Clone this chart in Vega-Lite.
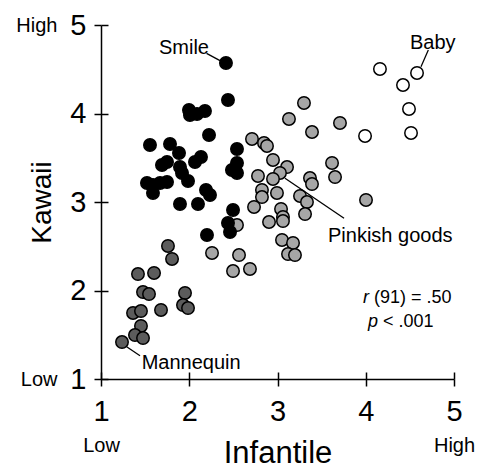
{
  "$schema": "https://vega.github.io/schema/vega-lite/v6.json",
  "width": 353,
  "height": 354,
  "autosize": {"type": "none"},
  "padding": {"left": 101, "top": 25, "right": 28, "bottom": 85},
  "background": "white",
  "config": {
    "font": "Liberation Sans",
    "view": {"stroke": null},
    "axis": {
      "grid": false,
      "domainColor": "#000000",
      "tickColor": "#000000",
      "labelColor": "#000000",
      "titleColor": "#000000",
      "domainWidth": 1.5,
      "tickWidth": 1.5,
      "titleFontWeight": "normal",
      "labelFont": "Liberation Sans",
      "titleFont": "Liberation Sans",
      "labelFlush": false,
      "labelOverlap": false
    }
  },
  "datasets": {
    "points": [
      {"infantile": 3.300, "kawaii": 4.119, "group": "light"},
      {"infantile": 3.130, "kawaii": 3.938, "group": "light"},
      {"infantile": 3.708, "kawaii": 3.893, "group": "light"},
      {"infantile": 3.391, "kawaii": 3.791, "group": "light"},
      {"infantile": 2.711, "kawaii": 3.712, "group": "light"},
      {"infantile": 2.847, "kawaii": 3.667, "group": "light"},
      {"infantile": 2.881, "kawaii": 3.633, "group": "light"},
      {"infantile": 2.949, "kawaii": 3.475, "group": "light"},
      {"infantile": 3.108, "kawaii": 3.395, "group": "light"},
      {"infantile": 3.028, "kawaii": 3.328, "group": "light"},
      {"infantile": 2.779, "kawaii": 3.294, "group": "light"},
      {"infantile": 2.949, "kawaii": 3.260, "group": "light"},
      {"infantile": 3.618, "kawaii": 3.441, "group": "light"},
      {"infantile": 3.652, "kawaii": 3.282, "group": "light"},
      {"infantile": 3.368, "kawaii": 3.271, "group": "light"},
      {"infantile": 3.391, "kawaii": 3.203, "group": "light"},
      {"infantile": 2.824, "kawaii": 3.136, "group": "light"},
      {"infantile": 2.824, "kawaii": 3.056, "group": "light"},
      {"infantile": 2.994, "kawaii": 3.102, "group": "light"},
      {"infantile": 3.255, "kawaii": 3.068, "group": "light"},
      {"infantile": 3.334, "kawaii": 3.000, "group": "light"},
      {"infantile": 2.734, "kawaii": 2.944, "group": "light"},
      {"infantile": 2.904, "kawaii": 2.774, "group": "light"},
      {"infantile": 3.040, "kawaii": 2.921, "group": "light"},
      {"infantile": 3.062, "kawaii": 2.831, "group": "light"},
      {"infantile": 3.062, "kawaii": 2.785, "group": "light"},
      {"infantile": 3.312, "kawaii": 2.864, "group": "light"},
      {"infantile": 4.003, "kawaii": 3.023, "group": "light"},
      {"infantile": 3.051, "kawaii": 2.571, "group": "light"},
      {"infantile": 3.176, "kawaii": 2.537, "group": "light"},
      {"infantile": 3.119, "kawaii": 2.412, "group": "light"},
      {"infantile": 3.198, "kawaii": 2.401, "group": "light"},
      {"infantile": 2.688, "kawaii": 2.243, "group": "light"},
      {"infantile": 2.564, "kawaii": 2.401, "group": "light"},
      {"infantile": 2.496, "kawaii": 2.220, "group": "light"},
      {"infantile": 2.258, "kawaii": 2.424, "group": "light"},
      {"infantile": 2.541, "kawaii": 2.740, "group": "light"},
      {"infantile": 1.759, "kawaii": 2.503, "group": "dark"},
      {"infantile": 1.805, "kawaii": 2.356, "group": "dark"},
      {"infantile": 1.419, "kawaii": 2.186, "group": "dark"},
      {"infantile": 1.601, "kawaii": 2.198, "group": "dark"},
      {"infantile": 1.476, "kawaii": 1.983, "group": "dark"},
      {"infantile": 1.544, "kawaii": 1.960, "group": "dark"},
      {"infantile": 1.952, "kawaii": 1.972, "group": "dark"},
      {"infantile": 1.929, "kawaii": 1.836, "group": "dark"},
      {"infantile": 1.986, "kawaii": 1.802, "group": "dark"},
      {"infantile": 1.680, "kawaii": 1.780, "group": "dark"},
      {"infantile": 1.363, "kawaii": 1.746, "group": "dark"},
      {"infantile": 1.453, "kawaii": 1.768, "group": "dark"},
      {"infantile": 1.453, "kawaii": 1.599, "group": "dark"},
      {"infantile": 1.385, "kawaii": 1.497, "group": "dark"},
      {"infantile": 1.476, "kawaii": 1.463, "group": "dark"},
      {"infantile": 1.238, "kawaii": 1.418, "group": "dark"},
      {"infantile": 2.416, "kawaii": 4.571, "group": "black"},
      {"infantile": 2.439, "kawaii": 4.153, "group": "black"},
      {"infantile": 1.997, "kawaii": 4.040, "group": "black"},
      {"infantile": 2.008, "kawaii": 3.983, "group": "black"},
      {"infantile": 2.088, "kawaii": 3.994, "group": "black"},
      {"infantile": 2.178, "kawaii": 4.028, "group": "black"},
      {"infantile": 2.224, "kawaii": 3.757, "group": "black"},
      {"infantile": 1.555, "kawaii": 3.644, "group": "black"},
      {"infantile": 1.782, "kawaii": 3.655, "group": "black"},
      {"infantile": 1.884, "kawaii": 3.554, "group": "black"},
      {"infantile": 2.541, "kawaii": 3.599, "group": "black"},
      {"infantile": 2.133, "kawaii": 3.508, "group": "black"},
      {"infantile": 2.065, "kawaii": 3.452, "group": "black"},
      {"infantile": 1.691, "kawaii": 3.418, "group": "black"},
      {"infantile": 1.748, "kawaii": 3.452, "group": "black"},
      {"infantile": 1.895, "kawaii": 3.395, "group": "black"},
      {"infantile": 1.918, "kawaii": 3.328, "group": "black"},
      {"infantile": 2.541, "kawaii": 3.441, "group": "black"},
      {"infantile": 2.484, "kawaii": 3.362, "group": "black"},
      {"infantile": 2.541, "kawaii": 3.328, "group": "black"},
      {"infantile": 1.521, "kawaii": 3.215, "group": "black"},
      {"infantile": 1.589, "kawaii": 3.192, "group": "black"},
      {"infantile": 1.669, "kawaii": 3.215, "group": "black"},
      {"infantile": 1.748, "kawaii": 3.226, "group": "black"},
      {"infantile": 1.589, "kawaii": 3.102, "group": "black"},
      {"infantile": 1.986, "kawaii": 3.237, "group": "black"},
      {"infantile": 2.190, "kawaii": 3.136, "group": "black"},
      {"infantile": 2.235, "kawaii": 3.079, "group": "black"},
      {"infantile": 1.895, "kawaii": 2.977, "group": "black"},
      {"infantile": 2.099, "kawaii": 2.977, "group": "black"},
      {"infantile": 2.496, "kawaii": 2.910, "group": "black"},
      {"infantile": 2.439, "kawaii": 2.763, "group": "black"},
      {"infantile": 2.462, "kawaii": 2.661, "group": "black"},
      {"infantile": 2.201, "kawaii": 2.627, "group": "black"},
      {"infantile": 4.161, "kawaii": 4.503, "group": "white"},
      {"infantile": 4.581, "kawaii": 4.458, "group": "white"},
      {"infantile": 4.422, "kawaii": 4.322, "group": "white"},
      {"infantile": 4.490, "kawaii": 4.051, "group": "white"},
      {"infantile": 4.513, "kawaii": 3.780, "group": "white"},
      {"infantile": 3.992, "kawaii": 3.746, "group": "white"}
    ],
    "leaders": [
      {"x1": 2.196, "y1": 4.679, "x2": 2.354, "y2": 4.595},
      {"x1": 4.709, "y1": 4.718, "x2": 4.626, "y2": 4.529},
      {"x1": 3.085, "y1": 3.268, "x2": 3.754, "y2": 2.816},
      {"x1": 1.291, "y1": 1.365, "x2": 1.442, "y2": 1.263}
    ],
    "labels": [
      {"x": 1.657, "y": 4.737, "text": "Smile"},
      {"x": 4.501, "y": 4.797, "text": "Baby"},
      {"x": 3.572, "y": 2.616, "text": "Pinkish goods"},
      {"x": 1.461, "y": 1.184, "text": "Mannequin"}
    ],
    "statsItalic": [
      {"x": 4.037, "y": 1.915, "text": "r"},
      {"x": 4.139, "y": 1.644, "text": "p"}
    ],
    "statsPlain": [
      {"x": 4.037, "y": 1.915, "text": "(91) = .50"},
      {"x": 4.139, "y": 1.644, "text": "< .001"}
    ]
  },
  "layer": [
    {
      "data": {"name": "points"},
      "mark": {"type": "point", "shape": "circle", "filled": true, "size": 155, "stroke": "#000000", "strokeWidth": 1.5, "opacity": 1},
      "encoding": {
        "x": {
          "field": "infantile", "type": "quantitative",
          "scale": {"domain": [1, 5], "nice": false, "zero": false},
          "axis": {"orient": "bottom", "values": [1, 2, 3, 4, 5], "format": "d", "labelFontSize": 29, "tickSize": 7, "labelPadding": 11, "title": "Infantile", "titleFontSize": 31, "titlePadding": 12}
        },
        "y": {
          "field": "kawaii", "type": "quantitative",
          "scale": {"domain": [1, 5], "nice": false, "zero": false},
          "axis": {"orient": "left", "values": [1, 2, 3, 4, 5], "format": "d", "labelFontSize": 29, "tickSize": 7, "labelPadding": 8, "title": "Kawaii", "titleFontSize": 28, "titlePadding": 13}
        },
        "color": {
          "field": "group", "type": "nominal",
          "scale": {"domain": ["black", "dark", "light", "white"], "range": ["#000000", "#5c5c5c", "#a6a6a6", "#ffffff"]},
          "legend": null
        }
      }
    },
    {
      "data": {"name": "leaders"},
      "mark": {"type": "rule", "color": "#000000", "strokeWidth": 1.3},
      "encoding": {
        "x": {
          "field": "x1", "type": "quantitative",
          "axis": {"orient": "bottom", "values": [1, 2, 3, 4, 5], "labelExpr": "datum.value == 1 ? 'Low' : datum.value == 5 ? 'High' : ''", "labelFontSize": 20, "tickSize": -7, "labelPadding": 63, "domain": false, "title": null}
        },
        "y": {
          "field": "y1", "type": "quantitative",
          "axis": {"orient": "left", "values": [1, 2, 3, 4, 5], "labelExpr": "datum.value == 5 ? 'High' : datum.value == 1 ? 'Low' : ''", "labelFontSize": 20, "tickSize": -7, "labelPadding": 51, "domain": false, "title": null}
        },
        "x2": {"field": "x2"},
        "y2": {"field": "y2"}
      }
    },
    {
      "data": {"name": "labels"},
      "mark": {"type": "text", "fontSize": 20, "align": "left", "baseline": "middle", "color": "#000000"},
      "encoding": {
        "x": {"field": "x", "type": "quantitative", "axis": null},
        "y": {"field": "y", "type": "quantitative", "axis": null},
        "text": {"field": "text"}
      }
    },
    {
      "data": {"name": "statsItalic"},
      "mark": {"type": "text", "fontSize": 18, "fontStyle": "italic", "align": "right", "baseline": "middle", "color": "#000000"},
      "encoding": {
        "x": {"field": "x", "type": "quantitative", "axis": null},
        "y": {"field": "y", "type": "quantitative", "axis": null},
        "text": {"field": "text"}
      }
    },
    {
      "data": {"name": "statsPlain"},
      "mark": {"type": "text", "fontSize": 18, "align": "left", "dx": 5, "baseline": "middle", "color": "#000000"},
      "encoding": {
        "x": {"field": "x", "type": "quantitative", "axis": null},
        "y": {"field": "y", "type": "quantitative", "axis": null},
        "text": {"field": "text"}
      }
    }
  ],
  "resolve": {"axis": {"x": "independent", "y": "independent"}}
}
